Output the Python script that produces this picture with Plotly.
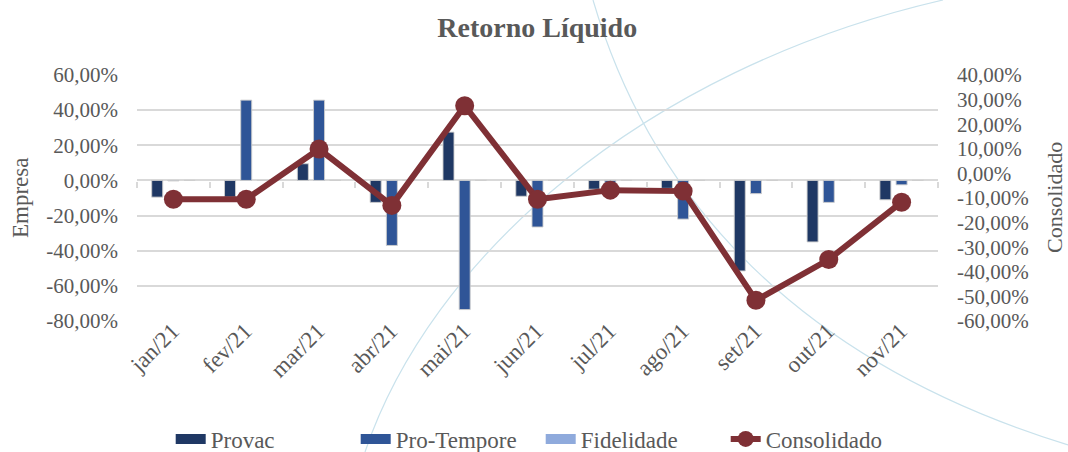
import plotly.graph_objects as go

categories = ["jan/21", "fev/21", "mar/21", "abr/21", "mai/21", "jun/21",
              "jul/21", "ago/21", "set/21", "out/21", "nov/21"]
provac = [-9.5, -9.5, 9.5, -12.5, 27.5, -9.0, -5.0, -4.5, -51.5, -35.0, -11.0]
pro_tempore = [-0.3, 45.7, 45.7, -37.0, -73.5, -26.5, -1.5, -22.0, -7.5, -12.5, -2.5]
fidelidade = [0, 0, 0, 0, 0, 0, 0, 0, 0, 0, 0]
consolidado = [-10.5, -10.5, 9.9, -13.0, 27.5, -10.5, -6.8, -7.2, -51.6, -35.0, -11.7]

left_ticks = [60, 40, 20, 0, -20, -40, -60, -80]
left_ticktext = ["60,00%", "40,00%", "20,00%", "0,00%", "-20,00%", "-40,00%", "-60,00%", "-80,00%"]
right_ticks = [40, 30, 20, 10, 0, -10, -20, -30, -40, -50, -60]
right_ticktext = ["40,00%", "30,00%", "20,00%", "10,00%", "0,00%", "-10,00%", "-20,00%",
                  "-30,00%", "-40,00%", "-50,00%", "-60,00%"]

FONT = "Liberation Serif, Times New Roman, serif"
GRAY = "#595959"
GRID = "#d9d9d9"
W, H = 1068, 452
ML, MR, MT, MB = 137, 130, 75, 131
PW, PH = W - ML - MR, H - MT - MB


def px(x, y):
    return (x - ML) / PW, (H - MB - y) / PH


def path(points):
    p0, p1, p2, p3 = [px(*p) for p in points]
    return "M {},{} C {},{} {},{} {},{}".format(p0[0], p0[1], p1[0], p1[1], p2[0], p2[1], p3[0], p3[1])


def f(size):
    return dict(family=FONT, size=size, color=GRAY)


series = [("Provac", provac, "#1f3864"), ("Pro-Tempore", pro_tempore, "#2f5597"),
          ("Fidelidade", fidelidade, "#8faadc")]

fig = go.Figure()
bar_line = dict(color="rgba(205,205,205,0.9)", width=1)
for name, vals, color in series:
    fig.add_trace(go.Bar(x=categories, y=vals, name=name, legendgroup=name, showlegend=False,
                         marker=dict(color=color, line=bar_line)))
for name, vals, color in series:
    # legend entry drawn as a wide bar swatch, like the original
    fig.add_trace(go.Scatter(x=[None], y=[None], name=name, legendgroup=name, mode="lines",
                             xaxis="x2", line=dict(color=color, width=11)))
fig.add_trace(go.Scatter(x=categories, y=consolidado, name="Consolidado", yaxis="y2",
                         mode="lines+markers", line=dict(color="#7f3035", width=6),
                         marker=dict(color="#7f3035", size=19)))

arc_color = "#c9e2ec"
shapes = [
    dict(type="path", xref="paper", yref="paper", layer="below",
         path=path([(593, 0), (640, 160), (760, 350), (1068, 445)]),
         line=dict(color=arc_color, width=1.2)),
    dict(type="path", xref="paper", yref="paper", layer="below",
         path=path([(365, 452), (430, 260), (640, 70), (943, 0)]),
         line=dict(color=arc_color, width=1.2)),
]

boundaries = [i - 0.5 for i in range(len(categories) + 1)]

fig.update_layout(
    width=W, height=H,
    margin=dict(l=ML, r=MR, t=MT, b=MB, autoexpand=False),
    paper_bgcolor="white", plot_bgcolor="rgba(0,0,0,0)",
    font=f(21),
    barmode="group", bargap=0.333, bargroupgap=0.32,
    title=dict(text="<b>Retorno Líquido</b>", x=0.503, xanchor="center",
               yref="container", y=1 - 27 / H, yanchor="middle", font=f(28)),
    xaxis=dict(range=[-0.5, 10.5], showgrid=False, showline=False, ticks="", tickangle=-45,
               automargin=False, tickfont=f(23), ticklabelstandoff=-9, ticklabelshift=-1),
    xaxis2=dict(range=[-0.5, 10.5], overlaying="x", anchor="free", position=px(0, 180.7)[1],
                side="bottom", tickvals=boundaries, showticklabels=False, ticks="outside",
                ticklen=6, tickwidth=1.6, tickcolor=GRID, showgrid=False, showline=False,
                zeroline=False, automargin=False, fixedrange=True),
    yaxis=dict(range=[-80, 60], tickvals=left_ticks, ticktext=left_ticktext, automargin=False,
               showgrid=True, gridcolor=GRID, gridwidth=1.6, zeroline=False,
               showline=False, ticks="", tickfont=f(21), ticklabelstandoff=18),
    yaxis2=dict(range=[-60, 40], tickvals=right_ticks, ticktext=right_ticktext, automargin=False,
                overlaying="y", side="right", showgrid=False, zeroline=False,
                showline=False, ticks="", tickfont=f(21), ticklabelstandoff=18),
    legend=dict(orientation="h", x=0.504, xanchor="center", y=px(0, 439)[1], yanchor="middle",
                font=f(23), bgcolor="rgba(0,0,0,0)", entrywidth=140, traceorder="normal"),
    shapes=shapes,
    annotations=[
        dict(text="Empresa", x=px(20, 0)[0], y=0.5, xref="paper", yref="paper", xanchor="center",
             textangle=-90, showarrow=False, font=f(23)),
        dict(text="Consolidado", x=px(1054, 0)[0], y=0.5, xref="paper", yref="paper",
             xanchor="center", textangle=-90, showarrow=False, font=f(22)),
    ],
)

fig.write_html("out.html", config={"displayModeBar": False},
               post_script="document.body.style.margin='0';document.body.style.overflow='hidden';")
